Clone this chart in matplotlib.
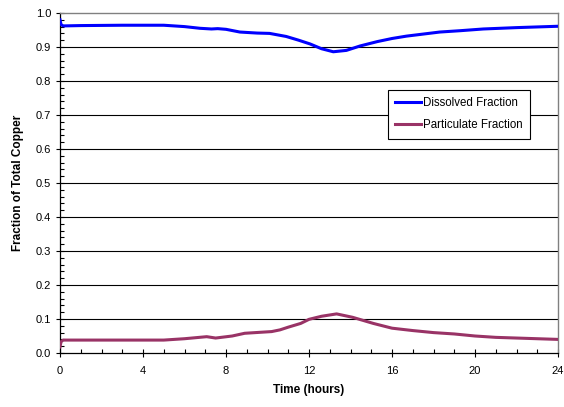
import matplotlib
matplotlib.use("Agg")
import matplotlib.pyplot as plt
from matplotlib.ticker import MultipleLocator

plt.rcParams['font.family'] = ['Liberation Sans', 'DejaVu Sans']

t_dis = [0, 0.05, 0.15, 1, 3, 5, 6, 6.75, 7.3, 7.6, 8, 8.67, 9.5, 10.1, 10.9, 11.5,
         12.05, 12.6, 13.17, 13.8, 14.46, 15.3, 16, 16.7, 17.5, 18.3, 19.3, 20.4, 22, 24]
dissolved = [0.98, 0.966, 0.962, 0.963, 0.964, 0.964, 0.960, 0.955, 0.953, 0.954, 0.952,
             0.944, 0.941, 0.940, 0.931, 0.920, 0.909, 0.895, 0.886, 0.890, 0.903, 0.916,
             0.925, 0.932, 0.938, 0.944, 0.948, 0.953, 0.957, 0.961]

t_par = [0, 0.05, 0.15, 1, 3, 5, 6, 7.07, 7.5, 8.3, 8.9, 10.2, 10.6, 11, 11.6, 12,
         12.6, 13.33, 14.1, 15.1, 16, 17, 18, 19, 20, 21, 22, 23, 24]
particulate = [0.018, 0.033, 0.038, 0.038, 0.038, 0.038, 0.042, 0.048, 0.044, 0.050,
               0.058, 0.063, 0.068, 0.076, 0.087, 0.099, 0.108, 0.115, 0.105, 0.087,
               0.073, 0.066, 0.060, 0.056, 0.050, 0.046, 0.044, 0.042, 0.040]

x_ticks = [0, 4, 8, 12, 16, 20, 24]
y_ticks = [0.0, 0.1, 0.2, 0.3, 0.4, 0.5, 0.6, 0.7, 0.8, 0.9, 1.0]

fig = plt.figure(figsize=(5.64, 4.07), dpi=100)
ax = fig.add_axes([60/564, 54/407, 498/564, 340/407])

for y in y_ticks[1:-1]:
    ax.axhline(y, color='black', lw=0.8, zorder=1)

ax.plot(t_dis, dissolved, color='#0000FF', lw=2.2, label='Dissolved Fraction', zorder=3,
        solid_joinstyle='round')
ax.plot(t_par, particulate, color='#993366', lw=2.2, label='Particulate Fraction', zorder=3,
        solid_joinstyle='round')

ax.set_xlim(0, 24)
ax.set_ylim(0, 1.0)
ax.set_xticks(x_ticks)
ax.set_yticks(y_ticks)
ax.set_yticklabels([f"{v:.1f}" for v in y_ticks])
ax.xaxis.set_minor_locator(MultipleLocator(1))
ax.yaxis.set_minor_locator(MultipleLocator(0.02))
ax.tick_params(axis='both', which='major', direction='inout', length=6, width=0.8,
               labelsize=8, color='black')
ax.tick_params(axis='both', which='minor', direction='in', length=3, width=0.8, color='black')
ax.tick_params(axis='x', pad=6)

for s in ['top', 'right']:
    ax.spines[s].set_color('#808080')
    ax.spines[s].set_linewidth(1.0)
for s in ['left', 'bottom']:
    ax.spines[s].set_color('black')
    ax.spines[s].set_linewidth(0.9)

ax.set_xlabel('Time (hours)', fontsize=8.5, fontweight='bold', labelpad=6)
ax.set_ylabel('Fraction of Total Copper', fontsize=8.5, fontweight='bold', labelpad=8)

leg = ax.legend(loc='upper left', bbox_to_anchor=((388-60)/498, (353-90)/340),
                borderaxespad=0, fontsize=8.3, frameon=True, fancybox=False,
                edgecolor='black', framealpha=1, handlelength=2.2, handletextpad=0.2,
                borderpad=0.65, labelspacing=0.85)
leg.get_frame().set_linewidth(0.8)

fig.savefig('out.png', dpi=100)
